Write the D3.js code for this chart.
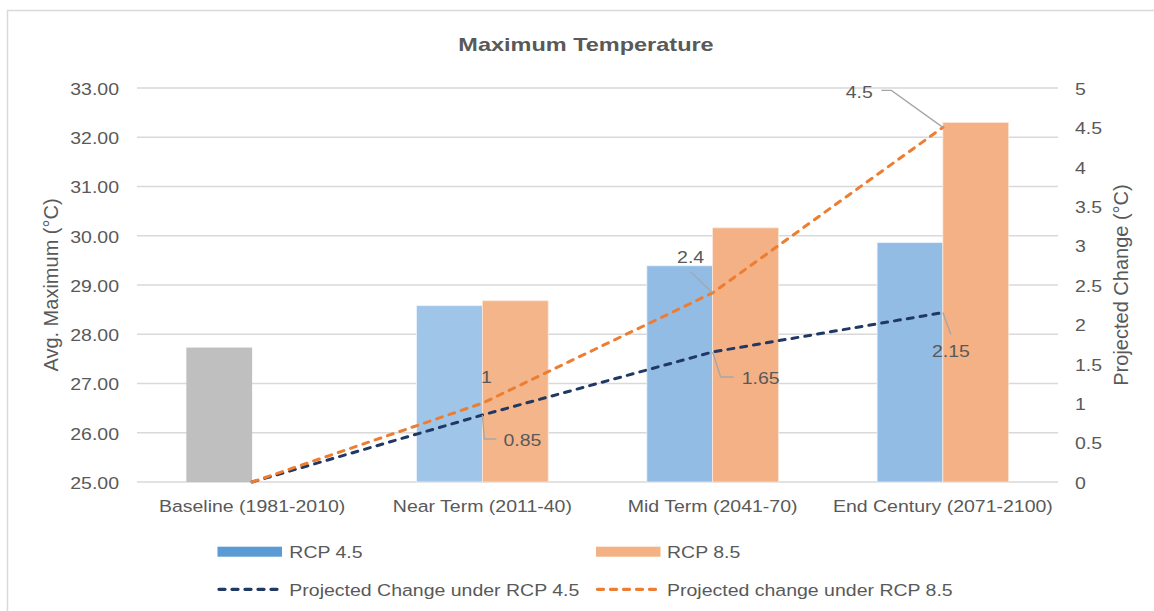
<!DOCTYPE html>
<html>
<head>
<meta charset="utf-8">
<script src="https://cdn.jsdelivr.net/npm/d3@7"></script>
<style>
  html, body { margin: 0; padding: 0; background: #fff; }
  svg { display: block; }
  text { font-family: "Liberation Sans", Arial, sans-serif; fill: #595959; }
</style>
</head>
<body>
<svg id="chart" width="1154" height="611"></svg>
<script>
// ---------------- data ----------------
const categories = ["Baseline (1981-2010)", "Near Term (2011-40)", "Mid Term (2041-70)", "End Century (2071-2100)"];
const baselineValue = [27.73, null, null, null];
const rcp45 = [null, 28.58, 29.39, 29.86];
const rcp85 = [null, 28.68, 30.16, 32.30];
const change45 = [0, 0.85, 1.65, 2.15];
const change85 = [0, 1, 2.4, 4.5];
const leftTicks = [25, 26, 27, 28, 29, 30, 31, 32, 33];
const rightTicks = [0, 0.5, 1, 1.5, 2, 2.5, 3, 3.5, 4, 4.5, 5];
const titleText = "Maximum Temperature";
const leftAxisTitle = "Avg. Maximum (°C)";
const rightAxisTitle = "Projected Change (°C)";
const legendItems = ["RCP 4.5", "RCP 8.5", "Projected Change under RCP 4.5", "Projected change under RCP 8.5"];

// ---------------- layout ----------------
const svg = d3.select("#chart");
const plotL = 137, plotR = 1058, plotT = 88, plotB = 482;
const FS = 19.5, SY = 0.88;
const navy = "#203864", orange = "#ED7D31";

const x = d3.scaleBand().domain(categories).range([plotL, plotR]).padding(0);
const yL = d3.scaleLinear().domain([25, 33]).range([plotB, plotT]);
const yR = d3.scaleLinear().domain([0, 5]).range([plotB, plotT]);
const barW = x.bandwidth() / 3.5;
const cx = c => x(c) + x.bandwidth() / 2;

function txt(parent, px, py, s, opt = {}) {
  const g = parent.append("g").attr("transform", `translate(${px},${py}) scale(1,${opt.sy || SY})`);
  g.append("text")
    .attr("text-anchor", opt.anchor || "start")
    .attr("font-size", opt.fs || FS)
    .attr("font-weight", opt.bold ? "bold" : "normal")
    .text(s);
  return g;
}

// outer border
svg.append("rect").attr("x", 7.5).attr("y", 10.5).attr("width", 1200).attr("height", 700)
  .attr("fill", "none").attr("stroke", "#D9D9D9").attr("stroke-width", 1.5);

// title
txt(svg, 586, 50.7, titleText, { anchor: "middle", fs: 23.5, bold: true, sy: 0.8 });

// gridlines
svg.append("g").selectAll("line").data(leftTicks).join("line")
  .attr("x1", plotL).attr("x2", plotR)
  .attr("y1", d => yL(d)).attr("y2", d => yL(d))
  .attr("stroke", "#D9D9D9").attr("stroke-width", 1.3);

// left axis (labels via d3 axis tick values)
const leftAxis = d3.axisLeft(yL).tickValues(leftTicks).tickFormat(d3.format(".2f"));
const la = svg.append("g").attr("transform", `translate(${plotL},0)`).call(leftAxis);
la.select(".domain").remove();
la.selectAll(".tick line").remove();
la.selectAll(".tick text").remove();
la.selectAll(".tick").each(function(d) {
  txt(d3.select(this), -18, 6.3, leftAxis.tickFormat()(d), { anchor: "end" });
});

const rightAxis = d3.axisRight(yR).tickValues(rightTicks).tickFormat(d3.format("~g"));
const ra = svg.append("g").attr("transform", `translate(${plotR},0)`).call(rightAxis);
ra.select(".domain").remove();
ra.selectAll(".tick line").remove();
ra.selectAll(".tick text").remove();
ra.selectAll(".tick").each(function(d) {
  txt(d3.select(this), 17, 6.3, rightAxis.tickFormat()(d), { anchor: "start" });
});

// axis titles
svg.append("text").attr("transform", "translate(58,285) rotate(-90)")
  .attr("text-anchor", "middle").attr("font-size", 20).text(leftAxisTitle);
svg.append("text").attr("transform", "translate(1128,285) rotate(-90)")
  .attr("text-anchor", "middle").attr("font-size", 20).text(rightAxisTitle);

// category labels
categories.forEach(c => txt(svg, cx(c), 511.7, c, { anchor: "middle" }));

// bars
const bars = svg.append("g");
const blueFill = ["#9FC5E8", "#9FC5E8", "#92BCE4", "#92BCE4"];
const orangeFill = ["#F4B183", "#F4B58A", "#F3B185", "#F3B185"];
categories.forEach((c, i) => {
  if (baselineValue[i] != null) {
    bars.append("rect").attr("x", cx(c) - barW).attr("width", barW)
      .attr("y", yL(baselineValue[i])).attr("height", yL(25) - yL(baselineValue[i]))
      .attr("fill", "#BFBFBF");
  }
  if (rcp45[i] != null) {
    bars.append("rect").attr("x", cx(c) - barW).attr("width", barW)
      .attr("y", yL(rcp45[i])).attr("height", yL(25) - yL(rcp45[i]))
      .attr("fill", blueFill[i]).attr("stroke", "#EAF2FA").attr("stroke-width", 0.8);
  }
  if (rcp85[i] != null) {
    bars.append("rect").attr("x", cx(c)).attr("width", barW)
      .attr("y", yL(rcp85[i])).attr("height", yL(25) - yL(rcp85[i]))
      .attr("fill", orangeFill[i]).attr("stroke", "#FBE6D8").attr("stroke-width", 0.8);
  }
});

// lines
const line = d3.line().x((d, i) => cx(categories[i])).y(d => yR(d));
svg.append("path").datum(change45).attr("d", line).attr("fill", "none")
  .attr("stroke", navy).attr("stroke-width", 3).attr("stroke-dasharray", "6,7").attr("stroke-linecap", "round");
svg.append("path").datum(change85).attr("d", line).attr("fill", "none")
  .attr("stroke", orange).attr("stroke-width", 3).attr("stroke-dasharray", "6,7").attr("stroke-linecap", "round");

// data labels (offsets relative to point positions)
const lab = svg.append("g");
function leader(pts) {
  lab.append("polyline").attr("points", pts.map(p => p.join(",")).join(" "))
    .attr("fill", "none").attr("stroke", "#A6A6A6").attr("stroke-width", 1.3);
}
// RCP 4.5 change labels
{
  let px = cx(categories[1]), py = yR(change45[1]);
  leader([[px, py], [px + 2, py + 24], [px + 14, py + 24]]);
  txt(lab, px + 21, py + 31, String(change45[1]));
  px = cx(categories[2]); py = yR(change45[2]);
  leader([[px, py], [px + 8, py + 25], [px + 21, py + 25]]);
  txt(lab, px + 29, py + 32, String(change45[2]));
  px = cx(categories[3]); py = yR(change45[3]);
  leader([[px, py], [px + 8, py + 22]]);
  txt(lab, px + 8, py + 44, String(change45[3]), { anchor: "middle" });
}
// RCP 8.5 change labels
{
  let px = cx(categories[1]), py = yR(change85[1]);
  txt(lab, px + 4, py - 20, String(change85[1]), { anchor: "middle" });
  px = cx(categories[2]); py = yR(change85[2]);
  leader([[px, py], [px - 22, py - 21]]);
  txt(lab, px - 22, py - 29.5, String(change85[2]), { anchor: "middle" });
  px = cx(categories[3]); py = yR(change85[3]);
  leader([[px, py], [px - 51.5, py - 37], [px - 61.5, py - 37]]);
  txt(lab, px - 70, py - 29, String(change85[3]), { anchor: "end" });
}

// legend
const lg = svg.append("g");
const lx1 = 217.5, lx2 = 596;
lg.append("rect").attr("x", lx1).attr("y", 546.7).attr("width", 64.5).attr("height", 10).attr("fill", "#5B9BD5");
txt(lg, 289.3, 557.7, legendItems[0]);
lg.append("rect").attr("x", lx2).attr("y", 546.7).attr("width", 64.5).attr("height", 10).attr("fill", "#F4B183");
txt(lg, 667, 557.7, legendItems[1]);
lg.append("line").attr("x1", lx1 + 1.5).attr("x2", lx1 + 64).attr("y1", 589.3).attr("y2", 589.3)
  .attr("stroke", navy).attr("stroke-width", 3.3).attr("stroke-dasharray", "6,7").attr("stroke-linecap", "round");
txt(lg, 289.3, 595.5, legendItems[2]);
lg.append("line").attr("x1", lx2 + 1.5).attr("x2", lx2 + 64).attr("y1", 589.3).attr("y2", 589.3)
  .attr("stroke", orange).attr("stroke-width", 3.3).attr("stroke-dasharray", "6,7").attr("stroke-linecap", "round");
txt(lg, 667, 595.5, legendItems[3]);
</script>
</body>
</html>
